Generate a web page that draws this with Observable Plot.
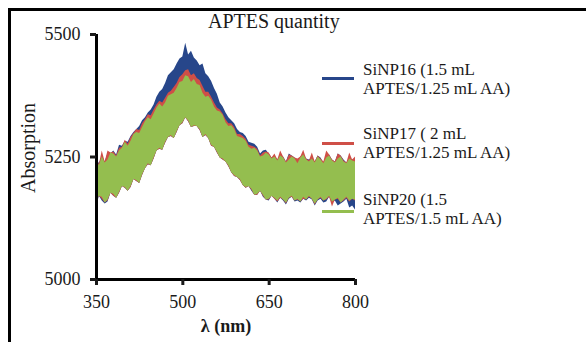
<!DOCTYPE html>
<html>
<head>
<meta charset="utf-8">
<script src="https://cdn.jsdelivr.net/npm/d3@7"></script>
<script src="https://cdn.jsdelivr.net/npm/@observablehq/plot@0.6"></script>
<style>
  html, body { margin: 0; padding: 0; background: #fff; }
  #wrap { position: relative; width: 586px; height: 342px; overflow: hidden;
          font-family: "Liberation Serif", "Times New Roman", serif; color: #1a1a1a; }
  #chart { position: absolute; left: 0; top: 0; }
  #frame { position: absolute; left: 8px; top: 8px; width: 600px; height: 360px;
           border-top: 3px solid #000; border-left: 3px solid #000; }
  .title { position: absolute; left: 208px; top: 11px; font-size: 20px; line-height: 20px; white-space: nowrap; }
  .ylab { position: absolute; left: 28px; top: 148px; font-size: 20px; line-height: 20px; white-space: nowrap;
          transform: translate(-50%, -50%) rotate(-90deg); }
  .xlab { position: absolute; left: 226px; top: 317px; font-size: 18px; line-height: 18px; font-weight: bold;
          white-space: nowrap; transform: translateX(-50%); }
  .lg-line { position: absolute; left: 322px; width: 32px; height: 3px; }
  .lg-text { position: absolute; left: 363px; font-size: 17px; line-height: 19px; white-space: nowrap; }
</style>
</head>
<body>
<div id="wrap">
  <div id="chart"></div>
  <div id="frame"></div>
  <div class="title">APTES quantity</div>
  <div class="ylab">Absorption</div>
  <div class="xlab">λ (nm)</div>
  <div id="legend"></div>
</div>
<script>
// ---- data ----
const seriesNames = ["SiNP16 (1.5 mL|APTES/1.25 mL AA)", "SiNP17 ( 2 mL|APTES/1.25 mL AA)", "SiNP20 (1.5|APTES/1.5 mL AA)"];
const seriesColors = ["#27468a", "#cf4f47", "#94be4f"];
const xTicks = [350, 500, 650, 800];
const yTicks = [5000, 5250, 5500];

const wavelength = [350,355,360,365,370,375,380,385,390,395,400,405,410,415,420,425,430,435,440,445,450,455,460,465,470,475,
                    480,485,490,495,500,505,510,515,520,525,530,535,540,545,550,555,560,565,570,575,580,585,590,595,600,
                    605,610,615,620,625,630,635,640,645,
                    650,655,660,665,670,675,680,685,690,695,700,705,710,715,720,725,730,735,740,745,750,755,760,765,770,775,780,785,790,795,800];

// SiNP16 (blue) noisy band: upper and lower envelope
const sinp16High = [5247,5236,5252,5240,5256,5256,5262,5254,5274,5272,5282,5280,5292,5300,5306,5312,5324,5330,5340,5346,5356,5372,5382,5388,5400,5416,
                    5422,5428,5440,5450,5454,5482,5458,5466,5452,5446,5436,5440,5420,5414,5404,5390,5378,5360,5352,5340,5330,5324,5318,5306,5300,
                    5298,5292,5280,5278,5276,5270,5256,5262,5264,
                    5256,5248,5252,5244,5254,5250,5240,5256,5252,5248,5240,5250,5256,5246,5244,5248,5240,5252,5248,5238,5250,5254,5244,5240,5256,5252,5244,5238,5248,5244,5246];
const sinp16Low  = [5148,5170,5160,5154,5158,5176,5170,5166,5176,5190,5186,5180,5188,5204,5200,5196,5212,5226,5234,5232,5246,5262,5266,5264,5278,5290,
                    5292,5288,5300,5314,5318,5330,5322,5310,5312,5312,5304,5290,5294,5288,5272,5270,5258,5248,5244,5240,5230,5218,5210,5208,5202,
                    5192,5186,5190,5180,5172,5172,5180,5168,5162,
                    5160,5170,5164,5156,5166,5160,5152,5164,5168,5158,5160,5156,5164,5160,5166,5162,5150,5160,5164,5156,5158,5168,5156,5160,5150,5154,5158,5164,5146,5150,5142];

// SiNP17 (red)
const sinp17High = [5250,5234,5262,5240,5262,5258,5260,5252,5268,5270,5284,5276,5290,5298,5306,5304,5318,5326,5336,5334,5346,5356,5364,5360,5370,5380,
                    5384,5392,5400,5412,5418,5426,5428,5416,5420,5410,5406,5394,5382,5382,5372,5360,5350,5346,5338,5326,5318,5318,5310,5296,5296,
                    5292,5286,5274,5272,5270,5266,5252,5258,5260,
                    5258,5248,5256,5244,5262,5250,5240,5254,5252,5248,5246,5250,5264,5246,5242,5258,5240,5252,5246,5240,5262,5254,5244,5240,5256,5252,5242,5238,5258,5244,5250];
const sinp17Low  = [5156,5170,5164,5156,5160,5176,5170,5166,5176,5190,5186,5180,5188,5204,5200,5196,5212,5226,5234,5232,5246,5262,5266,5264,5278,5290,
                    5292,5288,5300,5314,5318,5330,5322,5310,5312,5312,5304,5290,5294,5288,5272,5270,5258,5248,5244,5240,5230,5218,5210,5208,5202,
                    5192,5186,5190,5182,5172,5172,5180,5170,5162,
                    5162,5170,5164,5158,5166,5162,5154,5166,5168,5160,5162,5158,5164,5162,5168,5164,5152,5162,5166,5160,5162,5168,5148,5162,5164,5156,5160,5166,5158,5164,5160];

// SiNP20 (green)
const sinp20High = [5243,5232,5250,5238,5244,5258,5256,5250,5262,5268,5280,5272,5282,5296,5300,5298,5310,5322,5330,5326,5338,5350,5358,5352,5360,5374,
                    5377,5380,5390,5402,5404,5416,5414,5402,5408,5398,5396,5380,5372,5374,5366,5352,5344,5342,5335,5320,5312,5314,5306,5292,5290,
                    5288,5282,5270,5266,5268,5262,5250,5252,5258,
                    5254,5246,5250,5242,5252,5248,5238,5244,5250,5246,5236,5248,5254,5244,5240,5246,5238,5250,5244,5236,5248,5252,5242,5238,5246,5250,5240,5236,5246,5242,5240];
const sinp20Low  = [5160,5170,5168,5156,5162,5176,5174,5166,5178,5190,5188,5180,5190,5204,5202,5196,5214,5226,5236,5232,5248,5262,5268,5264,5280,5290,
                    5294,5288,5302,5314,5320,5330,5324,5310,5314,5312,5306,5290,5296,5288,5274,5270,5260,5248,5246,5240,5232,5218,5212,5208,5204,
                    5192,5188,5190,5184,5172,5174,5180,5172,5162,
                    5164,5170,5166,5160,5168,5162,5156,5166,5170,5160,5164,5158,5168,5162,5170,5164,5154,5162,5168,5160,5164,5170,5158,5162,5166,5156,5162,5168,5160,5164,5162];

// ---- build table for the library ----
const bands = [
  {name: seriesNames[0], hi: sinp16High, lo: sinp16Low, color: seriesColors[0]},
  {name: seriesNames[1], hi: sinp17High, lo: sinp17Low, color: seriesColors[1]},
  {name: seriesNames[2], hi: sinp20High, lo: sinp20Low, color: seriesColors[2]}
];
const rows = s => wavelength.map((w, i) => ({w, lo: s.lo[i], hi: s.hi[i]}));

const chart = Plot.plot({
  width: 586,
  height: 342,
  marginLeft: 96,
  marginRight: 231,
  marginTop: 34,
  marginBottom: 63,
  style: {fontFamily: '"Liberation Serif", "Times New Roman", serif', fontSize: "18px", color: "#1a1a1a", background: "transparent"},
  x: {domain: [350, 800]},
  y: {domain: [5000, 5500]},
  marks: [
    ...bands.map(s => Plot.areaY(rows(s), {x: "w", y1: "lo", y2: "hi", fill: s.color, curve: "linear"})),
    Plot.ruleX([350], {stroke: "#000", strokeWidth: 3}),
    Plot.ruleY([5000], {stroke: "#000", strokeWidth: 3}),
    Plot.axisX({ticks: xTicks, tickSize: 6, tickPadding: 10, strokeWidth: 3, fontSize: 18, label: null, tickFormat: d => String(d)}),
    Plot.axisY({ticks: yTicks, tickSize: 6, tickPadding: 10, strokeWidth: 3, fontSize: 18, label: null, tickFormat: d => String(d)})
  ]
});
document.getElementById("chart").appendChild(chart);

// ---- legend ----
const legend = document.getElementById("legend");
const lineY = [77, 142, 210];
const textTop = [60, 124, 190];
bands.forEach((s, i) => {
  const ln = document.createElement("div");
  ln.className = "lg-line";
  ln.style.top = lineY[i] + "px";
  ln.style.background = s.color;
  legend.appendChild(ln);
  const tx = document.createElement("div");
  tx.className = "lg-text";
  tx.style.top = textTop[i] + "px";
  tx.innerHTML = s.name.split("|").join("<br>");
  legend.appendChild(tx);
});
</script>
</body>
</html>
